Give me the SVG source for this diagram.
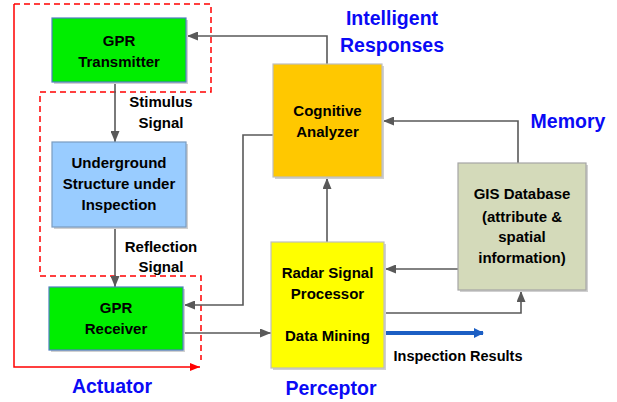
<svg xmlns="http://www.w3.org/2000/svg" width="617" height="402" viewBox="0 0 617 402">
<defs>
<marker id="ah" markerWidth="11" markerHeight="9" refX="11" refY="4.5" orient="auto" markerUnits="userSpaceOnUse"><path d="M0,0 L11,4.5 L0,9 Z" fill="#595959"/></marker>
<marker id="ahr" markerWidth="10" markerHeight="8" refX="10" refY="4" orient="auto" markerUnits="userSpaceOnUse"><path d="M0,0 L10,4 L0,8 Z" fill="#FF0000"/></marker>
<marker id="ahb" markerWidth="10" markerHeight="10" refX="9" refY="5" orient="auto" markerUnits="userSpaceOnUse"><path d="M0,0 L10,5 L0,10 Z" fill="#1C5FC4"/></marker>
</defs>
<style>
.box{stroke-width:1.2}
.sh{fill:#d0d0d0}
.t{font-family:"Liberation Sans",Arial,sans-serif;font-weight:bold;font-size:15px;fill:#000;text-anchor:middle}
.b{font-family:"Liberation Sans",Arial,sans-serif;font-weight:bold;font-size:19.5px;fill:#0A0AF5;text-anchor:middle}
.c{fill:none;stroke:#595959;stroke-width:1.6}
</style>
<rect width="617" height="402" fill="#fff"/>
<g id="actuator-boundary" fill="none">
<path d="M14,4 L211,4 L211,92 L40,92 L40,276 L201,276 L201,360" stroke="#FF0000" stroke-width="1.5" stroke-dasharray="6,4"/>
<path d="M14,4 L14,367 L200,367" stroke="#FF0000" stroke-width="1.5" marker-end="url(#ahr)"/>
</g>
<g id="connectors">
<path class="c" d="M115,82 L115,142" marker-end="url(#ah)"/>
<path class="c" d="M115,227 L115,287" marker-end="url(#ah)"/>
<path class="c" d="M327,64 L327,36 L187,36" marker-end="url(#ah)"/>
<path class="c" d="M273,135 L243,135 L243,305 L184,305" marker-end="url(#ah)"/>
<path class="c" d="M518,163 L518,121 L383,121" marker-end="url(#ah)"/>
<path class="c" d="M327,242 L327,178" marker-end="url(#ah)"/>
<path class="c" d="M458,269 L385,269" marker-end="url(#ah)"/>
<path class="c" d="M384,313 L521,313 L521,291" marker-end="url(#ah)"/>
<path class="c" d="M183,333 L271,333" marker-end="url(#ah)"/>
<path d="M384,333 L483,333" stroke="#1C5FC4" stroke-width="4" fill="none" marker-end="url(#ahb)"/>
</g>
<g id="gpr-transmitter">
<rect class="sh" x="54" y="20" width="134" height="64"/>
<rect class="box" x="52" y="18" width="134" height="64" fill="#00EE00" stroke="#4F7EC0"/>
<text class="t" x="119" y="46">GPR</text>
<text class="t" x="119" y="66.5">Transmitter</text>
</g>
<g id="underground-structure">
<rect class="sh" x="54" y="144" width="134" height="85"/>
<rect class="box" x="52" y="142" width="134" height="85" fill="#99CCFF" stroke="#7A9CC0"/>
<text class="t" x="119" y="168">Underground</text>
<text class="t" x="119" y="189">Structure under</text>
<text class="t" x="119" y="210">Inspection</text>
</g>
<g id="gpr-receiver">
<rect class="sh" x="51" y="289" width="134" height="63"/>
<rect class="box" x="49" y="287" width="134" height="63" fill="#00EE00" stroke="#4F7EC0"/>
<text class="t" x="116" y="313">GPR</text>
<text class="t" x="116" y="334">Receiver</text>
</g>
<g id="cognitive-analyzer">
<rect class="sh" x="275" y="66" width="109" height="113"/>
<rect class="box" x="273" y="64" width="109" height="113" fill="#FFC800" stroke="#BFBFBF"/>
<text class="t" x="327.5" y="116">Cognitive</text>
<text class="t" x="327.5" y="137">Analyzer</text>
</g>
<g id="radar-signal-processor">
<rect class="sh" x="273" y="244" width="113" height="126"/>
<rect class="box" x="271" y="242" width="113" height="126" fill="#FFFF00" stroke="#BFBFBF"/>
<text class="t" x="327.5" y="278">Radar Signal</text>
<text class="t" x="327.5" y="299">Processor</text>
<text class="t" x="327.5" y="341">Data Mining</text>
</g>
<g id="gis-database">
<rect class="sh" x="460" y="165" width="128" height="127"/>
<rect class="box" x="458" y="163" width="128" height="127" fill="#D4DABA" stroke="#A6A6A6"/>
<text class="t" x="522" y="199">GIS Database</text>
<text class="t" x="522" y="222">(attribute &amp;</text>
<text class="t" x="522" y="242">spatial</text>
<text class="t" x="522" y="263">information)</text>
</g>
<g id="labels">
<text class="t" x="161" y="107">Stimulus</text>
<text class="t" x="161" y="128">Signal</text>
<text class="t" x="161" y="252">Reflection</text>
<text class="t" x="161" y="272">Signal</text>
<text class="t" x="458" y="361" style="font-size:14.5px">Inspection Results</text>
<text class="b" x="392" y="25">Intelligent</text>
<text class="b" x="392" y="52">Responses</text>
<text class="b" x="568" y="128">Memory</text>
<text class="b" x="112" y="393">Actuator</text>
<text class="b" x="331" y="395">Perceptor</text>
</g>
</svg>
